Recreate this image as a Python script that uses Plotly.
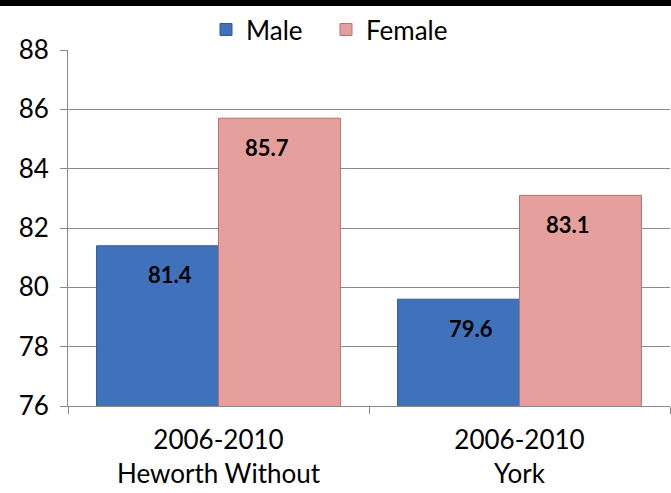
import plotly.graph_objects as go

categories = ["2006-2010<br>Heworth Without", "2006-2010<br>York"]
male = [81.4, 79.6]
female = [85.7, 83.1]
series_names = ["Male", "Female"]
y_ticks = [76, 78, 80, 82, 84, 86, 88]

FONT = "Lato"
fig = go.Figure()
fig.add_trace(go.Bar(
    x=categories, y=male, name=series_names[0], legend="legend",
    marker=dict(color="#3F72BA", line=dict(color="#2C5A97", width=1)),
))
fig.add_trace(go.Bar(
    x=categories, y=female, name=series_names[1], legend="legend2",
    marker=dict(color="#E5A09E", line=dict(color="#B27370", width=1)),
))

# data labels inside, below the top of each bar
for vals, off in ((male, -0.2), (female, 0.2)):
    for c, v in zip(categories, vals):
        fig.add_annotation(
            x=c, y=v, xref="x", yref="y", text=f"{v:.1f}", showarrow=False,
            xshift=off * 301 * 0.81, yshift=-29,
            font=dict(family=FONT, size=22, color="black", weight="bold"),
        )

# thick black line at the very top
fig.add_shape(type="line", xref="paper", yref="paper",
              x0=-0.2, x1=1.2, y0=1 + 47 / 356, y1=1 + 47 / 356,
              line=dict(color="black", width=6), layer="below")

leg_common = dict(orientation="h", xref="container", yref="container",
                  xanchor="left", y=0.94, yanchor="middle",
                  font=dict(size=26), itemwidth=30,
                  bgcolor="rgba(0,0,0,0)")

fig.update_layout(
    width=671, height=493,
    margin=dict(l=68, r=1, t=50, b=87, autoexpand=False),
    paper_bgcolor="white", plot_bgcolor="white",
    font=dict(family=FONT, size=26, color="black"),
    barmode="group", bargap=0.19, bargroupgap=0,
    showlegend=True,
    legend=dict(x=206 / 671, **leg_common),
    legend2=dict(x=326 / 671, **leg_common),
    xaxis=dict(showline=True, linecolor="#8a8a8a", linewidth=1,
               ticks="outside", tickson="boundaries", ticklen=7,
               tickcolor="#8a8a8a", tickfont=dict(size=26),
               ticklabelstandoff=11),
    yaxis=dict(range=[76, 88], tickvals=y_ticks, showgrid=True,
               gridcolor="#8a8a8a", gridwidth=1, showline=True,
               linecolor="#8a8a8a", ticks="outside", ticklen=7,
               tickcolor="#8a8a8a", tickfont=dict(size=26), zeroline=False,
               ticklabelstandoff=6),
)
fig.write_html("out.html", config={"displayModeBar": False})

with open("out.html", encoding="utf-8") as f:
    html = f.read()
html = html.replace("<head>", "<head><style>html,body{margin:0;padding:0;}</style>", 1)
with open("out.html", "w", encoding="utf-8") as f:
    f.write(html)
